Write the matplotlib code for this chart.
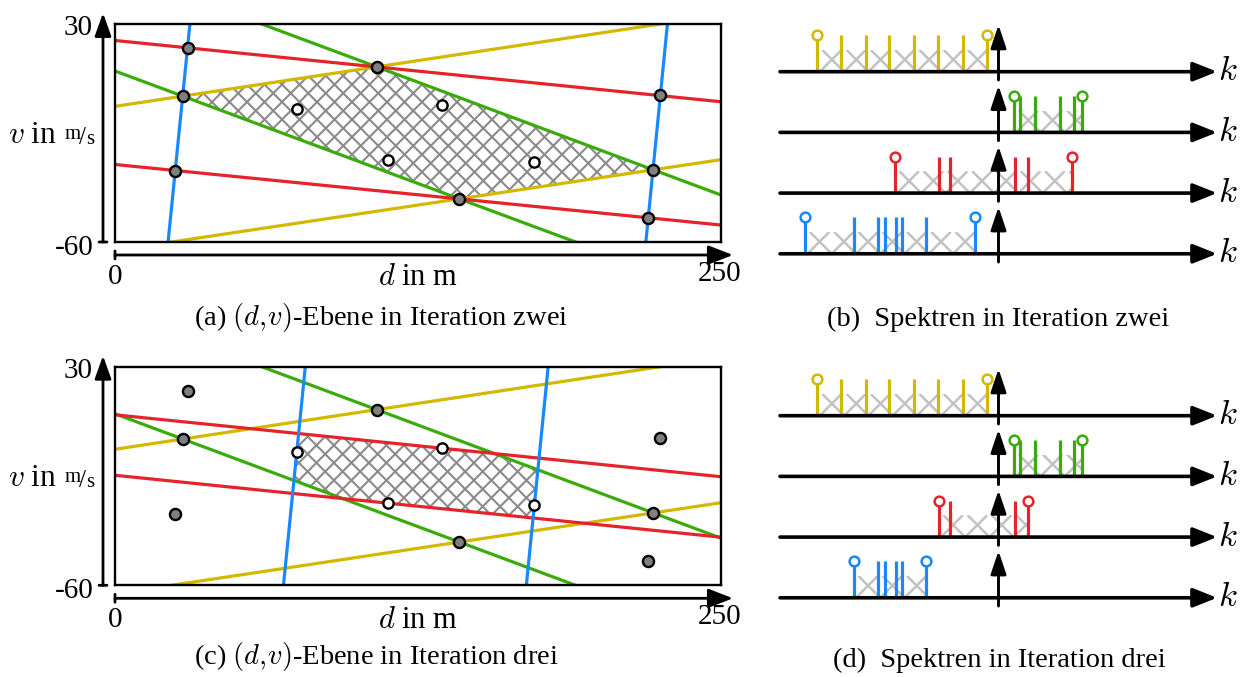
import numpy as np
import matplotlib
matplotlib.use("Agg")
import matplotlib.pyplot as plt
from matplotlib.patches import Rectangle, Polygon
from matplotlib.collections import LineCollection
from matplotlib.transforms import offset_copy

W, H, DPI = 1244, 677, 100

plt.rcParams.update({
    "font.family": ["Liberation Serif", "DejaVu Serif"],
    "mathtext.fontset": "cm",
})

YELLOW, GREEN, RED, BLUE = "#d3b800", "#3aab0c", "#e4242a", "#1888fb"
HATCH_DARK = "#8a8a8a"
HATCH_LIGHT = "#c2c2c2"

# ---------------- (d, v) plane ----------------
D_MIN, D_MAX = 0, 250
V_MIN, V_MAX = -60, 30

line_colors = [YELLOW, YELLOW, GREEN, GREEN, RED, RED, BLUE, BLUE]

# each line of constant beat frequency, given by two (d, v) points
it2_start = [(0, -4.0), (23.3, -60), (60.5, 30), (0, 10.6),
             (0, 23.2), (0, -28.0), (21.9, -60), (219.0, -60)]
it2_end = [(225, 30), (250, -26.0), (250, -40.6), (190, -60),
           (250, -2.1), (250, -53.0), (30.9, 30), (227.9, 30)]
it3_start = [(0, -4.0), (23.3, -60), (60.5, 30), (0, 10.6),
             (0, 10.2), (0, -14.7), (69.5, -60), (169.7, -60)]
it3_end = [(225, 30), (250, -26.0), (250, -40.6), (190, -60),
           (250, -15.3), (250, -40.2), (78.5, 30), (178.7, 30)]

# ghost intersections (grey) and true targets (white)
ghost_d = [30, 27.9, 24.8, 108, 225, 222, 220, 142]
ghost_v = [20.2, 0.2, -30.5, 12.3, 0.5, -30.2, -50.1, -42.2]
target_d = [75, 112.8, 135, 173]
target_v = [-5.0, -26.2, -3.6, -27.0]

# ---------------- spectra ----------------
K_MIN, K_MAX = -9.0, 9.0
row_colors = [YELLOW, GREEN, RED, BLUE]
it2_edges = [(-7.46, -0.47), (0.63, 3.44), (-4.28, 3.03), (-7.97, -0.98)]
it2_peaks = [[-6.47, -5.47, -4.49, -3.49, -2.48, -1.47],
             [0.89, 1.52, 2.54, 3.13],
             [-2.47, -1.99, 0.70, 1.21],
             [-5.97, -4.97, -4.69, -4.24, -3.97, -2.98]]
it3_edges = [(-7.46, -0.47), (0.63, 3.44), (-2.47, 1.21), (-5.97, -2.98)]
it3_peaks = [[-6.47, -5.47, -4.49, -3.49, -2.48, -1.47],
             [0.89, 1.52, 2.54, 3.13],
             [-1.99, 0.70],
             [-4.97, -4.69, -4.24, -3.97]]

ROW_GAP = 2.5
STEM_H = 1.5
BAND_H = 0.9
HATCH_STEP = 1.0

fig = plt.figure(figsize=(W / DPI, H / DPI), dpi=DPI)
fig.patch.set_facecolor("white")


def px_rect(x0, y0, x1, y1):
    return [x0 / W, 1 - y1 / H, (x1 - x0) / W, (y1 - y0) / H]


def seg(ax, xy0, off0, xy1, off1, style, lw):
    ax.annotate("", xy=xy1,
                xycoords=offset_copy(ax.transData, fig=fig, x=off1[0], y=off1[1], units="dots"),
                xytext=xy0,
                textcoords=offset_copy(ax.transData, fig=fig, x=off0[0], y=off0[1], units="dots"),
                arrowprops=dict(arrowstyle=style, mutation_scale=1, lw=lw, color="black",
                                shrinkA=0, shrinkB=0),
                annotation_clip=False)


def keep_side(poly, p0, p1, ref):
    def side(pt):
        return (p1[0] - p0[0]) * (pt[1] - p0[1]) - (p1[1] - p0[1]) * (pt[0] - p0[0])
    sgn = np.sign(side(ref))
    out = []
    for i in range(len(poly)):
        a, b = poly[i], poly[(i + 1) % len(poly)]
        sa, sb = side(a) * sgn, side(b) * sgn
        if sa >= 0:
            out.append(a)
        if sa * sb < 0:
            t = sa / (sa - sb)
            out.append((a[0] + t * (b[0] - a[0]), a[1] + t * (b[1] - a[1])))
    return out


def cross_hatch(ax, clip_patch, x_lo, x_hi, y_lo, y_hi, step, rise, color, lw):
    """45-degree cross hatch: `rise` is the x-extent of a line climbing y_lo..y_hi."""
    segs = []
    for x in np.arange(x_lo - rise - step, x_hi + rise + step, step):
        segs.append([(x, y_lo), (x + rise, y_hi)])
        segs.append([(x, y_lo), (x - rise, y_hi)])
    lc = LineCollection(segs, colors=color, linewidths=lw, zorder=1)
    ax.add_collection(lc)
    lc.set_clip_path(clip_patch)


def dv_plane(rect, starts, ends):
    x0, y0, x1, y1 = rect
    ax = fig.add_axes(px_rect(*rect))
    ax.set_xlim(D_MIN, D_MAX)
    ax.set_ylim(V_MIN, V_MAX)
    ax.set_xticks([])
    ax.set_yticks([])
    for sp in ax.spines.values():
        sp.set_linewidth(1.7)
        sp.set_zorder(6)

    region = [(D_MIN, V_MIN), (D_MAX, V_MIN), (D_MAX, V_MAX), (D_MIN, V_MAX)]
    ref = (np.mean(target_d), np.mean(target_v))
    for a, b in zip(starts, ends):
        region = keep_side(region, a, b, ref)
    px_per_d = (x1 - x0) / (D_MAX - D_MIN)
    px_per_v = (y1 - y0) / (V_MAX - V_MIN)
    clip = Polygon(region, closed=True, transform=ax.transData)
    cross_hatch(ax, clip, D_MIN, D_MAX, V_MIN, V_MAX,
                step=17.5 / px_per_d,
                rise=(V_MAX - V_MIN) * px_per_v / px_per_d,
                color=HATCH_DARK, lw=1.5)

    for a, b, c in zip(starts, ends, line_colors):
        ax.axline(a, b, color=c, lw=2.3, zorder=2)

    ax.plot(ghost_d, ghost_v, "o", ms=8.0, mfc="#808080", mec="black", mew=1.7, zorder=4)
    ax.plot(target_d, target_v, "o", ms=7.4, mfc="white", mec="black", mew=1.7, zorder=5)

    # axis arrows with start ticks
    seg(ax, (D_MIN, V_MIN), (-12, 0), (D_MIN, V_MAX), (-12, 11),
        "-|>,head_length=14,head_width=5", 2)
    seg(ax, (D_MIN, V_MIN), (0, -13), (D_MAX, V_MIN), (12, -13),
        "-|>,head_length=15,head_width=5.8", 2)
    seg(ax, (D_MIN, V_MIN), (-16, 0), (D_MIN, V_MIN), (-8, 0), "-", 2)
    seg(ax, (D_MIN, V_MIN), (0, -17), (D_MIN, V_MIN), (0, -9), "-", 2)

    kw = dict(textcoords="offset pixels", annotation_clip=False, fontsize=21)
    ax.annotate(f"{V_MAX}", xy=(D_MIN, V_MAX), xytext=(-22, -4), ha="right", va="center", **kw)
    ax.annotate(f"{V_MIN}", xy=(D_MIN, V_MIN), xytext=(-21, -6), ha="right", va="center", **kw)
    ax.annotate(f"{D_MIN}", xy=(D_MIN, V_MIN), xytext=(0, -35), ha="center", va="center", **kw)
    ax.annotate(f"{D_MAX}", xy=(D_MAX, V_MIN), xytext=(-1, -32), ha="center", va="center", **kw)
    kw["fontsize"] = 22
    ax.annotate("$d$ in m", xy=((D_MIN + D_MAX) / 2, V_MIN), xytext=(0, -43),
                ha="center", va="baseline", **kw)
    return ax


def v_label(y_base):
    fig.text(8 / W, 1 - y_base / H, "$v$ in", fontsize=22.5, ha="left", va="baseline")
    fig.text(65 / W, 1 - (y_base - 4) / H, "m", fontsize=15, ha="left", va="baseline")
    fig.text(79 / W, 1 - (y_base + 1) / H, "/", fontsize=18, ha="left", va="baseline")
    fig.text(86.5 / W, 1 - (y_base + 1) / H, "s", fontsize=15, ha="left", va="baseline")


def spectra(rect, edges, peaks):
    ax = fig.add_axes(px_rect(*rect))
    x0, y0, x1, y1 = rect
    unit = (x1 - x0) / (K_MAX - K_MIN)
    top = 61.7 / unit
    ax.set_xlim(K_MIN, K_MAX)
    ax.set_ylim(top - (y1 - y0) / unit, top)
    ax.axis("off")
    for r, (c, (k0, k1), ks) in enumerate(zip(row_colors, edges, peaks)):
        y = -ROW_GAP * r
        band = Rectangle((k0, y), k1 - k0, BAND_H, transform=ax.transData)
        cross_hatch(ax, band, k0, k1, y, y + BAND_H, step=HATCH_STEP, rise=BAND_H,
                    color=HATCH_LIGHT, lw=1.8)
        ax.vlines(ks, y, y + STEM_H, color=c, lw=2.3, zorder=3)
        ax.vlines([k0, k1], y, y + STEM_H, color=c, lw=2.3, zorder=3)
        ax.plot([k0, k1], [y + STEM_H] * 2, "o", ms=7.0, mfc="white", mec=c, mew=1.8,
                zorder=4, clip_on=False)
        ax.annotate("", xy=(K_MAX, y), xytext=(K_MIN, y),
                    arrowprops=dict(arrowstyle="-|>,head_length=14.5,head_width=5.8",
                                    mutation_scale=1, lw=2.6, color="black",
                                    shrinkA=0, shrinkB=0),
                    annotation_clip=False, zorder=5)
        ax.annotate("", xy=(0, y + 1.93), xytext=(0, y - 0.34),
                    arrowprops=dict(arrowstyle="-|>,head_length=14,head_width=4.7",
                                    mutation_scale=1, lw=2.1, color="black",
                                    shrinkA=0, shrinkB=0),
                    annotation_clip=False, zorder=5)
        ax.text(K_MAX + 0.05, y, "$k$", fontsize=25, ha="left", va="center")
    return ax


dv_plane((115, 24, 721, 242), it2_start, it2_end)
dv_plane((115, 366.7, 721, 585.3), it3_start, it3_end)
v_label(143)
v_label(486)

spectra((780, 10, 1217, 270), it2_edges, it2_peaks)
spectra((780, 354, 1217, 614), it3_edges, it3_peaks)

cap = dict(fontsize=20.5, ha="center", va="baseline")
fig.text(381 / W, 1 - 325 / H, r"(a) $(d,\!v)$-Ebene in Iteration zwei", **cap)
fig.text(998.5 / W, 1 - 326 / H, "(b)  Spektren in Iteration zwei", **cap)
fig.text(376 / W, 1 - 664 / H, r"(c) $(d,\!v)$-Ebene in Iteration drei", **cap)
fig.text(999 / W, 1 - 667 / H, "(d)  Spektren in Iteration drei", **cap)

fig.savefig("out.png", dpi=DPI, facecolor="white")
